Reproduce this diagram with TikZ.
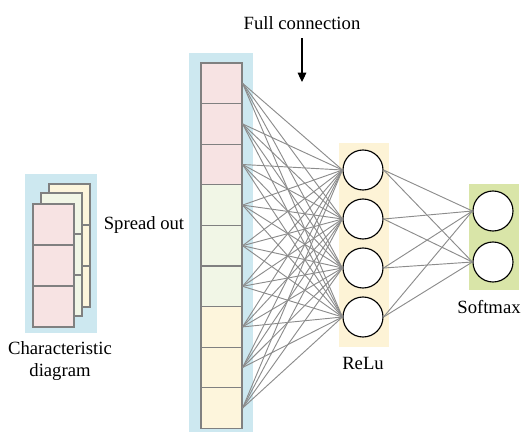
\documentclass[tikz,border=0pt]{standalone}
\usepackage{fontspec}
\setmainfont{Liberation Serif}
\usetikzlibrary{arrows.meta,positioning}
\definecolor{bgblue}{HTML}{CDE8F0}
\definecolor{bgrelu}{HTML}{FDF3D6}
\definecolor{bgsoft}{HTML}{D9E5A8}
\definecolor{cellpink}{HTML}{F7E3E3}
\definecolor{cellgrn}{HTML}{F1F6E6}
\definecolor{cellyel}{HTML}{FDF5DC}

\begin{document}
\begin{tikzpicture}[x=0.75pt,y=-0.75pt,font=\rmfamily\fontsize{14}{16.5}\selectfont]
\tikzset{
  cell/.style={draw=black!50,line width=0.85pt,minimum width=30.75pt,minimum height=30.4pt,inner sep=0pt},
  fmap/.style={draw=black!50,line width=0.85pt},
  neuron/.style={circle,draw=black,line width=0.85pt,fill=white,minimum size=30pt,inner sep=0pt},
  link/.style={draw=black!45,line width=0.7pt},
  arr/.style={-{Triangle[length=7pt,width=6.5pt]},line width=0.8pt}
}
\useasboundingbox (0,0) rectangle (522,432);
% backgrounds
\fill[bgblue] (25,174) rectangle (97,333);
\fill[bgblue] (189,53) rectangle (253,432);
\fill[bgrelu] (339,143) rectangle (389,347);
\fill[bgsoft] (469,184) rectangle (519,290);
% characteristic diagram
\foreach \lx/\ly/\col in {49/184/cellyel,41/193/cellgrn,33/204/cellpink}
  \foreach \k in {0,1,2}
    \draw[fmap,fill=\col] (\lx,{\ly+41*\k}) rectangle ++(41,41);
% spread out column
\foreach \i/\col in {1/cellpink,2/cellpink,3/cellpink,4/cellgrn,5/cellgrn,6/cellgrn,7/cellyel,8/cellyel,9/cellyel}
  \node[cell,fill=\col] (c\i) at (221.5,{63+40.6*(\i-0.5)}) {};
% layers
\foreach \j/\y in {1/170,2/219,3/268,4/317}
  \node[neuron] (r\j) at (363,\y) {};
\node[neuron] (s1) at (493,211) {};
\node[neuron] (s2) at (493,262) {};
\foreach \i in {1,...,9}
  \foreach \j in {1,...,4}
    \draw[link] (c\i.east) -- (r\j.west);
\foreach \j in {1,...,4}
  \foreach \k in {1,2}
    \draw[link] (r\j.east) -- (s\k.west);
% labels
\node (fc) at (302,23) {Full connection};
\coordinate (fcend) at (302,82);
\draw[arr,shorten <=3pt] (fc.south) -- (fcend);
\node (so) at (144,225) {Spread out};
\node[align=center] (cd) at (60,361) {Characteristic\\diagram};
\node (rl) at (363,363) {ReLu};
\node (sm) at (489,307) {Softmax};
\end{tikzpicture}
\end{document}
